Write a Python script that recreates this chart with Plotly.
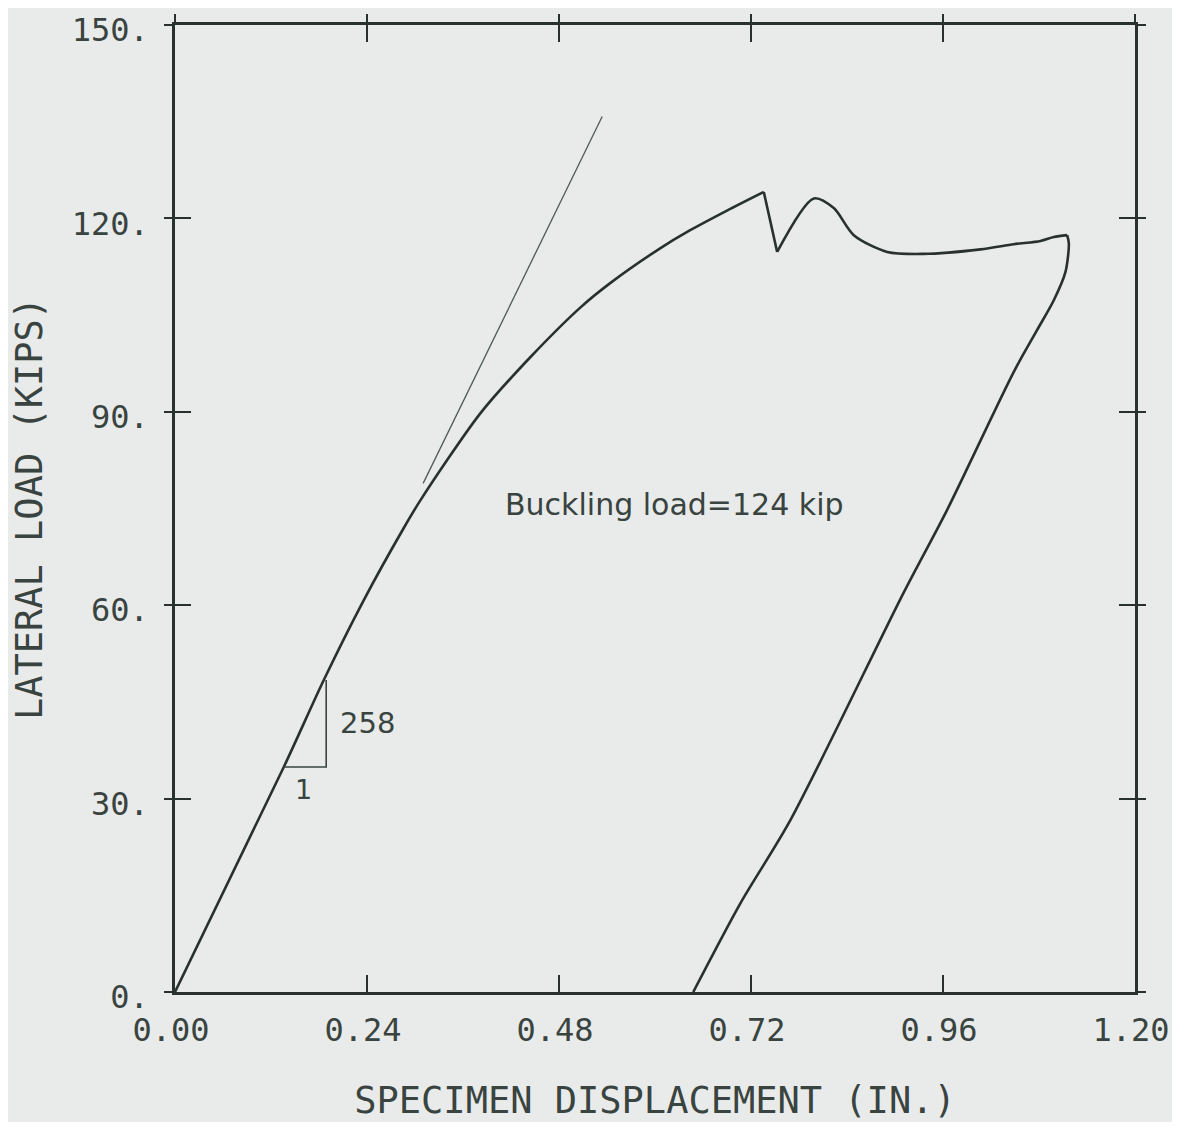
import plotly.graph_objects as go

# ---- data ----
# loading branch: origin up to the buckling peak
rise_x = [0.0, 0.136, 0.186, 0.236, 0.2856, 0.3069, 0.3819, 0.4444, 0.5069,
          0.5444, 0.6069, 0.6402, 0.690, 0.736]
rise_y = [0.0, 34.9, 48.4, 60.8, 71.9, 76.3, 89.8, 98.5, 106.2,
          110.0, 115.4, 117.9, 121.2, 124.1]
# sudden drop after buckling
drop_x = [0.736, 0.7527]
drop_y = [124.1, 114.8]
# post-buckling hump and plateau
post_x = [0.7527, 0.7985, 0.8235, 0.8485, 0.8903, 0.936, 1.0069, 1.0485,
          1.0819, 1.0985, 1.1152]
post_y = [114.8, 123.1, 121.6, 117.4, 114.8, 114.5, 115.2, 116.0,
          116.5, 117.1, 117.4]
# unloading branch
unload_x = [1.1152, 1.1173, 1.1131, 1.0985, 1.0777, 1.0485, 0.9652, 0.911,
            0.7694, 0.7069, 0.6478]
unload_y = [117.4, 116.1, 111.7, 107.3, 102.7, 96.2, 74.8, 62.0,
            26.7, 13.8, 0.0]

tangent_x = [0.3102, 0.534]
tangent_y = [78.9, 135.8]

triangle_x = [0.136, 0.189, 0.189]
triangle_y = [34.9, 34.9, 48.4]

x_tickvals = [0.0, 0.24, 0.48, 0.72, 0.96, 1.20]
x_ticktext = ["0.00", "0.24", "0.48", "0.72", "0.96", "1.20"]
y_tickvals = [0, 30, 60, 90, 120, 150]
y_ticktext = ["0.", "30.", "60.", "90.", "120.", "150."]

x_title = "SPECIMEN DISPLACEMENT (IN.)"
y_title = "LATERAL LOAD (KIPS)"
buckling_text = "Buckling load=124 kip"
slope_text = "258"
run_text = "1"

# ---- style ----
INK = "#28312d"
TEXT = "#39433f"
BG = "#e8ebe9"
MONO = "DejaVu Sans Mono"
SANS = "DejaVu Sans"

fig = go.Figure()
curve_line = dict(color=INK, width=2.6)
fig.add_trace(go.Scatter(x=rise_x, y=rise_y, mode="lines",
                         line=dict(**curve_line, shape="spline", smoothing=0.8),
                         hoverinfo="skip"))
fig.add_trace(go.Scatter(x=drop_x, y=drop_y, mode="lines",
                         line=curve_line, hoverinfo="skip"))
fig.add_trace(go.Scatter(x=post_x, y=post_y, mode="lines",
                         line=dict(**curve_line, shape="spline", smoothing=0.8),
                         hoverinfo="skip"))
fig.add_trace(go.Scatter(x=unload_x, y=unload_y, mode="lines",
                         line=dict(**curve_line, shape="spline", smoothing=0.8),
                         hoverinfo="skip"))
fig.add_trace(go.Scatter(x=tangent_x, y=tangent_y, mode="lines",
                         line=dict(color="#505a56", width=1.3), hoverinfo="skip"))
fig.add_trace(go.Scatter(x=triangle_x, y=triangle_y, mode="lines",
                         line=dict(color="#3a4440", width=1.6), hoverinfo="skip"))
# invisible trace to create the overlay axes (outside half of cross ticks)
fig.add_trace(go.Scatter(x=[0], y=[0], xaxis="x2", yaxis="y2", mode="markers",
                         marker=dict(opacity=0), hoverinfo="skip"))

axis_common = dict(showgrid=False, zeroline=False, showline=True, automargin=False,
                   linecolor=INK, linewidth=2.6, tickcolor=INK, tickwidth=2.2)

fig.update_layout(
    width=1164, height=1114,
    paper_bgcolor=BG, plot_bgcolor=BG,
    showlegend=False,
    margin=dict(l=167, r=37, t=17, b=130, autoexpand=False),
    xaxis=dict(range=[0, 1.2], tickvals=x_tickvals, ticktext=x_ticktext,
               ticks="inside", ticklen=17, mirror="ticks",
               tickfont=dict(family=MONO, size=32, color=TEXT),
               ticklabelstandoff=8, ticklabeloverflow="allow", ticklabelshift=-4,
               title=dict(text=x_title, font=dict(family=MONO, size=37, color=TEXT),
                          standoff=58),
               **axis_common),
    yaxis=dict(range=[0, 150], tickvals=y_tickvals, ticktext=y_ticktext,
               ticks="inside", ticklen=16, mirror="ticks",
               tickfont=dict(family=MONO, size=32, color=TEXT),
               ticklabelstandoff=17, ticklabeloverflow="allow", ticklabelshift=5,
               title=dict(text=y_title, font=dict(family=MONO, size=37, color=TEXT),
                          standoff=20),
               **axis_common),
    xaxis2=dict(range=[0, 1.2], overlaying="x", side="top", anchor="y2",
                tickvals=x_tickvals, showticklabels=False,
                ticks="outside", ticklen=8, **axis_common),
    yaxis2=dict(range=[0, 150], overlaying="y", side="left", anchor="x2",
                tickvals=y_tickvals, showticklabels=False,
                ticks="outside", ticklen=8, mirror="ticks", **axis_common),
)

fig.add_annotation(x=0.4106, y=75.6, text=buckling_text, showarrow=False,
                   xanchor="left", yanchor="middle",
                   font=dict(family=SANS, size=30, color=TEXT))
fig.add_annotation(x=0.204, y=41.7, text=slope_text, showarrow=False,
                   xanchor="left", yanchor="middle",
                   font=dict(family=SANS, size=29, color=TEXT))
fig.add_annotation(x=0.16, y=31.4, text=run_text, showarrow=False,
                   xanchor="center", yanchor="middle",
                   font=dict(family=SANS, size=27, color=TEXT))

fig.write_html("out.html")
